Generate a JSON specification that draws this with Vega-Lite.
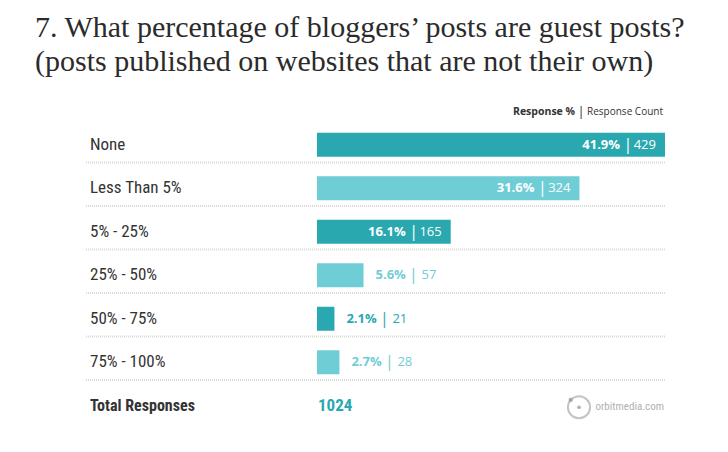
{
  "$schema": "https://vega.github.io/schema/vega-lite/v6.json",
  "width": 580,
  "height": 304.5,
  "autosize": {"type": "none"},
  "padding": {"left": 85, "top": 119, "right": 63, "bottom": 28.5},
  "background": "white",
  "config": {"view": {"stroke": null}},
  "title": {
    "text": ["7. What percentage of bloggers’ posts are guest posts?", "(posts published on websites that are not their own)"],
    "anchor": "start",
    "frame": "group",
    "dx": -50,
    "font": "Liberation Serif",
    "fontSize": 30,
    "fontWeight": "normal",
    "color": "#2b2b2b",
    "lineHeight": 34,
    "offset": 29
  },
  "datasets": {
    "rows": [
      {"answer": "None", "pct": 41.9, "count": 429},
      {"answer": "Less Than 5%", "pct": 31.6, "count": 324},
      {"answer": "5% - 25%", "pct": 16.1, "count": 165},
      {"answer": "25% - 50%", "pct": 5.6, "count": 57},
      {"answer": "50% - 75%", "pct": 2.1, "count": 21},
      {"answer": "75% - 100%", "pct": 2.7, "count": 28}
    ],
    "total": [{"answer": "Total Responses", "count": 1024}]
  },
  "data": {"name": "rows"},
  "layer": [
    {
      "mark": {"type": "rule", "color": "#d9d9d9", "strokeWidth": 2, "strokeDash": [1, 1]},
      "encoding": {
        "y": {"field": "answer", "type": "nominal", "bandPosition": 1, "title": null, "axis": null,
          "scale": {"domain": ["None", "Less Than 5%", "5% - 25%", "25% - 50%", "50% - 75%", "75% - 100%", "Total Responses"], "paddingInner": 0, "paddingOuter": 0}}
      }
    },
    {
      "mark": {"type": "bar", "height": 24, "yOffset": 4},
      "encoding": {
        "x": {"field": "pct", "type": "quantitative", "axis": null, "scale": {"domain": [-27.933, 41.9], "nice": false, "zero": false}},
        "y": {"field": "answer", "type": "nominal", "title": null, "axis": null,
          "scale": {"domain": ["None", "Less Than 5%", "5% - 25%", "25% - 50%", "50% - 75%", "75% - 100%", "Total Responses"], "paddingInner": 0, "paddingOuter": 0}},
        "color": {"field": "answer", "type": "nominal", "legend": null,
          "scale": {"domain": ["None", "Less Than 5%", "5% - 25%", "25% - 50%", "50% - 75%", "75% - 100%"],
            "range": ["#29A8B0", "#6FCDD6", "#29A8B0", "#6FCDD6", "#29A8B0", "#6FCDD6"]}}
      }
    },
    {
      "mark": {"type": "text", "align": "left", "baseline": "middle", "dx": 5, "yOffset": 4, "font": "Roboto Condensed, DejaVu Sans Condensed, Roboto, sans-serif", "fontSize": 17, "color": "#333333"},
      "encoding": {
        "x": {"datum": -27.933, "type": "quantitative", "axis": null},
        "y": {"field": "answer", "type": "nominal", "axis": null, "title": null},
        "text": {"field": "answer", "type": "nominal"}
      }
    },
    {
      "data": {"name": "total"},
      "mark": {"type": "text", "align": "left", "baseline": "middle", "dx": 5, "yOffset": 4, "font": "Roboto Condensed, DejaVu Sans Condensed, Roboto, sans-serif", "fontWeight": "bold", "fontSize": 16, "color": "#333333"},
      "encoding": {
        "x": {"datum": -27.933, "type": "quantitative", "axis": null},
        "y": {"field": "answer", "type": "nominal", "axis": null, "title": null},
        "text": {"field": "answer", "type": "nominal"}
      }
    },
    {
      "transform": [{"filter": "datum.pct > 10"}],
      "mark": {"type": "text", "align": "right", "baseline": "middle", "dx": -45, "yOffset": 4, "font": "Open Sans", "fontWeight": "bold", "fontSize": 13, "color": "white",
        "text": {"expr": "format(datum.pct, '.1f') + '%'"}},
      "encoding": {
        "x": {"field": "pct", "type": "quantitative", "axis": null, "scale": {"domain": [-27.933, 41.9], "nice": false, "zero": false}},
        "y": {"field": "answer", "type": "nominal", "axis": null, "title": null}
      }
    },
    {
      "transform": [{"filter": "datum.pct > 10"}],
      "mark": {"type": "text", "align": "center", "baseline": "middle", "dx": -37, "yOffset": 4, "font": "Open Sans", "fontSize": 16, "color": "white", "text": "|"},
      "encoding": {
        "x": {"field": "pct", "type": "quantitative", "axis": null, "scale": {"domain": [-27.933, 41.9], "nice": false, "zero": false}},
        "y": {"field": "answer", "type": "nominal", "axis": null, "title": null}
      }
    },
    {
      "transform": [{"filter": "datum.pct > 10"}],
      "mark": {"type": "text", "align": "right", "baseline": "middle", "dx": -9, "yOffset": 4, "font": "Open Sans", "fontSize": 13, "color": "white"},
      "encoding": {
        "x": {"field": "pct", "type": "quantitative", "axis": null, "scale": {"domain": [-27.933, 41.9], "nice": false, "zero": false}},
        "y": {"field": "answer", "type": "nominal", "axis": null, "title": null},
        "text": {"field": "count", "type": "quantitative"}
      }
    },
    {
      "transform": [{"filter": "datum.pct < 10"}],
      "mark": {"type": "text", "align": "left", "baseline": "middle", "dx": 12, "yOffset": 4, "font": "Open Sans", "fontWeight": "bold", "fontSize": 13,
        "text": {"expr": "format(datum.pct, '.1f') + '%'"}},
      "encoding": {
        "x": {"field": "pct", "type": "quantitative", "axis": null, "scale": {"domain": [-27.933, 41.9], "nice": false, "zero": false}},
        "y": {"field": "answer", "type": "nominal", "axis": null, "title": null},
        "color": {"field": "answer", "type": "nominal", "legend": null}
      }
    },
    {
      "transform": [{"filter": "datum.pct < 10"}],
      "mark": {"type": "text", "align": "center", "baseline": "middle", "dx": 50, "yOffset": 4, "font": "Open Sans", "fontSize": 16, "text": "|"},
      "encoding": {
        "x": {"field": "pct", "type": "quantitative", "axis": null, "scale": {"domain": [-27.933, 41.9], "nice": false, "zero": false}},
        "y": {"field": "answer", "type": "nominal", "axis": null, "title": null},
        "color": {"field": "answer", "type": "nominal", "legend": null}
      }
    },
    {
      "transform": [{"filter": "datum.pct < 10"}],
      "mark": {"type": "text", "align": "left", "baseline": "middle", "dx": 58, "yOffset": 4, "font": "Open Sans", "fontSize": 13},
      "encoding": {
        "x": {"field": "pct", "type": "quantitative", "axis": null, "scale": {"domain": [-27.933, 41.9], "nice": false, "zero": false}},
        "y": {"field": "answer", "type": "nominal", "axis": null, "title": null},
        "color": {"field": "answer", "type": "nominal", "legend": null},
        "text": {"field": "count", "type": "quantitative"}
      }
    },
    {
      "data": {"name": "total"},
      "mark": {"type": "text", "align": "left", "baseline": "middle", "dx": 1, "yOffset": 4, "font": "Roboto Condensed, DejaVu Sans Condensed, Roboto, sans-serif", "fontWeight": "bold", "fontSize": 17, "color": "#29A8B0"},
      "encoding": {
        "x": {"datum": 0, "type": "quantitative", "axis": null},
        "y": {"field": "answer", "type": "nominal", "axis": null, "title": null},
        "text": {"field": "count", "type": "quantitative"}
      }
    },
    {
      "data": {"name": "total"},
      "mark": {"type": "text", "align": "right", "baseline": "middle", "dx": -2, "yOffset": -29, "font": "Open Sans", "fontSize": 10, "color": "#333333", "text": "Response Count"},
      "encoding": {
        "x": {"datum": 41.9, "type": "quantitative", "axis": null},
        "y": {"datum": "None", "type": "nominal", "axis": null}
      }
    },
    {
      "data": {"name": "total"},
      "mark": {"type": "text", "align": "center", "baseline": "middle", "dx": -84, "yOffset": -29, "font": "Open Sans", "fontSize": 13, "color": "#333333", "text": "|"},
      "encoding": {
        "x": {"datum": 41.9, "type": "quantitative", "axis": null},
        "y": {"datum": "None", "type": "nominal", "axis": null}
      }
    },
    {
      "data": {"name": "total"},
      "mark": {"type": "text", "align": "right", "baseline": "middle", "dx": -90, "yOffset": -29, "font": "Open Sans", "fontWeight": "bold", "fontSize": 10.5, "color": "#333333", "text": "Response %"},
      "encoding": {
        "x": {"datum": 41.9, "type": "quantitative", "axis": null},
        "y": {"datum": "None", "type": "nominal", "axis": null}
      }
    },
    {
      "data": {"name": "total"},
      "mark": {"type": "text", "align": "right", "baseline": "middle", "dx": -1, "yOffset": 5.5, "font": "Roboto Condensed, DejaVu Sans Condensed, Roboto, sans-serif", "fontSize": 11, "color": "#b0b0b0", "text": "orbitmedia.com"},
      "encoding": {
        "x": {"datum": 41.9, "type": "quantitative", "axis": null},
        "y": {"field": "answer", "type": "nominal", "axis": null, "title": null}
      }
    },
    {
      "data": {"name": "total"},
      "mark": {"type": "point", "shape": "circle", "filled": false, "size": 490, "stroke": "#c4c4c4", "strokeWidth": 2, "opacity": 1, "xOffset": -86, "yOffset": 5.5},
      "encoding": {
        "x": {"datum": 41.9, "type": "quantitative", "axis": null},
        "y": {"field": "answer", "type": "nominal", "axis": null, "title": null}
      }
    },
    {
      "data": {"name": "total"},
      "mark": {"type": "point", "shape": "circle", "filled": true, "size": 14, "color": "#b0b0b0", "opacity": 1, "xOffset": -86, "yOffset": 5.5},
      "encoding": {
        "x": {"datum": 41.9, "type": "quantitative", "axis": null},
        "y": {"field": "answer", "type": "nominal", "axis": null, "title": null}
      }
    },
    {
      "data": {"name": "total"},
      "mark": {"type": "point", "shape": "circle", "filled": true, "size": 18, "color": "#a8a8a8", "opacity": 1, "xOffset": -94.3, "yOffset": -1.8},
      "encoding": {
        "x": {"datum": 41.9, "type": "quantitative", "axis": null},
        "y": {"field": "answer", "type": "nominal", "axis": null, "title": null}
      }
    }
  ]
}
